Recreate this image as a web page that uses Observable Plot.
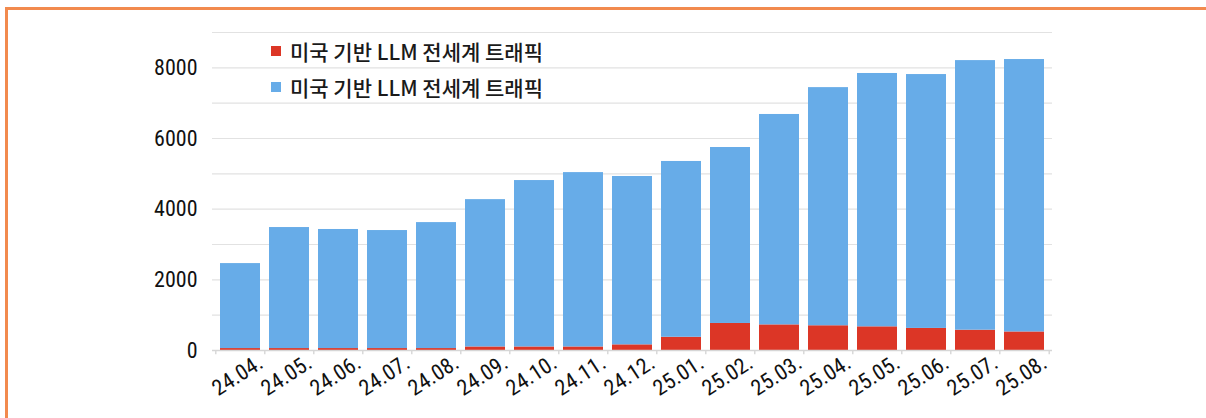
<!DOCTYPE html>
<html>
<head>
<meta charset="utf-8">
<script src="https://cdn.jsdelivr.net/npm/d3@7"></script>
<script src="https://cdn.jsdelivr.net/npm/@observablehq/plot@0.6"></script>
<style>
  html, body { margin: 0; padding: 0; background: #fff; }
  body { width: 1206px; height: 418px; overflow: hidden; position: relative; }
  #frame { position: absolute; left: 5px; top: 7px; width: 1400px; height: 600px;
           border-top: 3px solid #f28a4e; border-left: 3px solid #f28a4e; box-sizing: border-box; }
  #chart { position: absolute; left: 0; top: 0; }
  #legend { position: absolute; left: 271px; top: 33px; font-family: "Noto Sans CJK KR", sans-serif;
            font-size: 21px; font-weight: 500; color: #1a1a1a; }
  .row { display: flex; align-items: center; height: 36px; white-space: nowrap; }
  .sw { width: 10px; height: 10px; margin-right: 9px; flex: none; }
</style>
</head>
<body>
<div id="frame"></div>
<div id="chart"></div>
<div id="legend"></div>
<script>
const months = ["24.04.","24.05.","24.06.","24.07.","24.08.","24.09.","24.10.","24.11.","24.12.",
                "25.01.","25.02.","25.03.","25.04.","25.05.","25.06.","25.07.","25.08."];
const usValues    = [55, 55, 55, 55, 55, 100, 100, 100, 160, 375, 765, 725, 700, 670, 625, 575, 525];
const otherValues = [2405, 3425, 3370, 3340, 3565, 4170, 4710, 4935, 4765, 4975, 4980, 5955, 6740, 7170, 7185, 7630, 7710];
const seriesKeys = ["us", "other"];
const seriesLabels = ["미국 기반 LLM 전세계 트래픽", "미국 기반 LLM 전세계 트래픽"];
const seriesColors = ["#dc3626", "#67ace8"];
const yTickValues = [0, 2000, 4000, 6000, 8000];
const gridValues = [1000, 2000, 3000, 4000, 5000, 6000, 7000, 8000, 9000];

const rows = [];
months.forEach((m, i) => {
  rows.push({month: m, series: "us", value: usValues[i]});
  rows.push({month: m, series: "other", value: otherValues[i]});
});

const W = 1206, H = 418;
const mL = 212, mR = 154, mT = 32, mB = 68;
const pIn = 0.19, pOut = 0.09;
const step = (W - mL - mR) / (months.length - pIn + 2 * pOut);
const tickFont = '"Liberation Sans Narrow", "Roboto Condensed", Roboto, sans-serif';

const chart = Plot.plot({
  width: W, height: H,
  marginLeft: mL, marginRight: mR, marginTop: mT, marginBottom: mB,
  style: {background: "transparent", fontFamily: tickFont, color: "#111"},
  x: {type: "band", domain: months, paddingInner: pIn, paddingOuter: pOut, align: 0.5, axis: null},
  y: {domain: [0, 9000], axis: null},
  color: {type: "ordinal", domain: seriesKeys, range: seriesColors},
  marks: [
    Plot.ruleY(gridValues, {stroke: "#e2e2e2", strokeWidth: 1.2}),
    Plot.barY(rows, {x: "month", y: "value", fill: "series", z: "series", order: seriesKeys}),
    Plot.ruleY([0], {stroke: "#d6d6d6", strokeWidth: 1.6}),
    Plot.ruleX(months, {x: d => d, dx: -step / 2, y1: 0, y2: -120, stroke: "#d6d6d6", strokeWidth: 1.4}),
    Plot.ruleX(months.slice(-1), {x: d => d, dx: step / 2, y1: 0, y2: -120, stroke: "#d6d6d6", strokeWidth: 1.4}),
    Plot.text(yTickValues, {y: d => d, text: d => String(d), frameAnchor: "left", textAnchor: "end",
      dx: -15, fontSize: 22, fill: "#111"}),
    Plot.text(months, {x: d => d, text: d => d, frameAnchor: "bottom", textAnchor: "end",
      rotate: -33, dx: 24, dy: 16, fontSize: 22, fill: "#111"})
  ]
});
document.getElementById("chart").appendChild(chart);

const legend = document.getElementById("legend");
seriesKeys.forEach((k, i) => {
  const row = document.createElement("div");
  row.className = "row";
  const sw = document.createElement("span");
  sw.className = "sw";
  sw.style.background = seriesColors[i];
  const t = document.createElement("span");
  t.textContent = seriesLabels[i];
  row.appendChild(sw); row.appendChild(t);
  legend.appendChild(row);
});
</script>
</body>
</html>
